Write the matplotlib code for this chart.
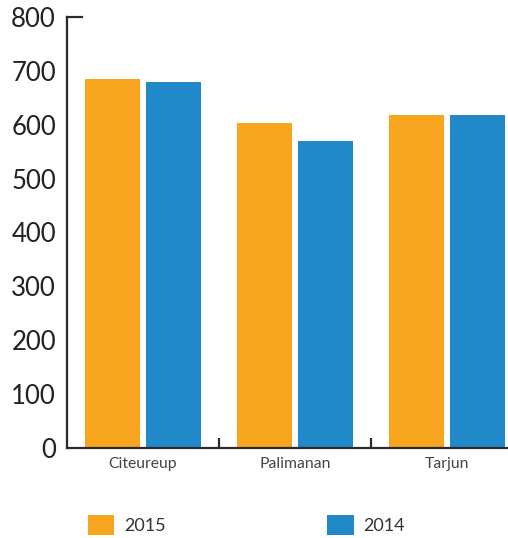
import numpy as np
import matplotlib
matplotlib.use("Agg")
import matplotlib.pyplot as plt

# --- DATA ---
plants = ["Citeureup", "Palimanan", "Tarjun"]
years = ["2015", "2014"]
values_2015 = [685, 603, 618]
values_2014 = [679, 570, 618]
y_ticks = [0, 100, 200, 300, 400, 500, 600, 700, 800]

ORANGE = "#F7A51E"
BLUE = "#2188C9"
DARK = "#2b2b2b"

plt.rcParams["font.family"] = ["Lato", "DejaVu Sans"]

fig = plt.figure(figsize=(5.08, 5.38), dpi=100)
ax = fig.add_axes([67 / 508, 90.3 / 538, 441 / 508, 430.7 / 538])

x = np.arange(len(plants))
w = 0.362
gap = 0.04
ax.bar(x - (w + gap) / 2, values_2015, width=w, color=ORANGE, label=years[0])
ax.bar(x + (w + gap) / 2, values_2014, width=w, color=BLUE, label=years[1])

ax.set_xlim(-0.5, 2.401)
ax.set_ylim(0, 800)

# spines
for s in ["top", "right"]:
    ax.spines[s].set_visible(False)
for s in ["left", "bottom"]:
    ax.spines[s].set_color(DARK)
    ax.spines[s].set_linewidth(1.6)

# short cap at the top of the y axis
ax.axhline(800, xmin=0, xmax=15 / 441, color=DARK, lw=1.6, clip_on=False)

ax.set_yticks(y_ticks)
ax.set_yticklabels([str(t) for t in y_ticks], fontsize=18.5, color="#222222")
ax.tick_params(axis="y", length=0, pad=8)

ax.set_xticks(x)
ax.set_xticklabels(plants, fontsize=11.3, color="#444444")
ax.tick_params(axis="x", which="major", length=0, pad=7)
ax.set_xticks([0.5, 1.5], minor=True)
ax.tick_params(axis="x", which="minor", direction="in", length=7, width=1.6, color=DARK)

leg = fig.legend(loc="center left", bbox_to_anchor=(88 / 508, 1 - 525 / 538),
                 ncol=2, frameon=False, fontsize=13, borderpad=0, borderaxespad=0,
                 handlelength=1.45, handleheight=1.3, handletextpad=0.55,
                 columnspacing=8.95)
for t in leg.get_texts():
    t.set_color("#333333")

fig.savefig("out.png", dpi=100)
